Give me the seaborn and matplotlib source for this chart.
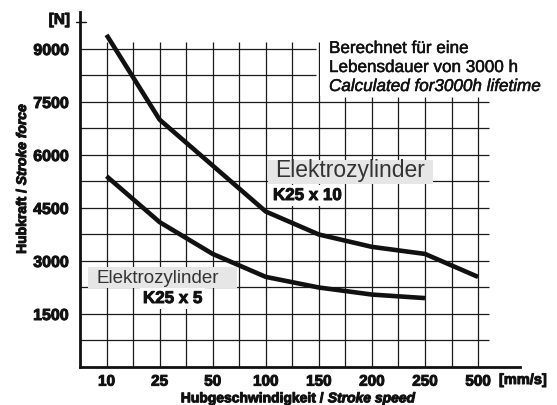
import numpy as np
import pandas as pd
import matplotlib
matplotlib.use("Agg")
import matplotlib.pyplot as plt
import matplotlib.patheffects as pe
from matplotlib.patches import Rectangle
import seaborn as sns

# ---- data ----
speed_labels = ["10", "25", "50", "100", "150", "200", "250", "500"]
force_k25x10 = [9400, 7000, 5700, 4400, 3750, 3400, 3200, 2550]
force_k25x5 = [5400, 4100, 3200, 2550, 2250, 2050, 1950]
y_major = [1500, 3000, 4500, 6000, 7500, 9000]
y_minor = [750, 2250, 3750, 5250, 6750, 8250]

rows = []
for i, v in enumerate(force_k25x10):
    rows.append(("K25 x 10", i, v))
for i, v in enumerate(force_k25x5):
    rows.append(("K25 x 5", i, v))
df = pd.DataFrame(rows, columns=["series", "pos", "force"])

sns.set_style("white")
plt.rcParams["font.family"] = ["Liberation Sans", "DejaVu Sans"]

W, H = 557, 405
fig = plt.figure(figsize=(W / 100, H / 100), dpi=100)
ax = fig.add_axes([80 / W, (H - 367) / H, (520 - 80) / W, (367 - 12) / H])
ax.set_xlim(-0.5, 7.79)
ax.set_ylim(0, 10047)

HEAVY = [pe.withStroke(linewidth=0.7, foreground="#111111")]
SEMI = [pe.withStroke(linewidth=0.35, foreground="#111111")]

def fx(px):
    return px / W

def fy(py):
    return 1 - py / H

# grid (drawn manually, limited extent)
gcol = "#1a1a1a"
cut_y = 7650
cut_x = 3.94
for xv in np.arange(0, 7.01, 0.5):
    top = 9200 if xv <= 4 else cut_y
    ax.plot([xv, xv], [0, top], color=gcol, lw=0.9, zorder=1, solid_capstyle="butt")
for yv in sorted(y_major + y_minor):
    right = 7.2 if yv < cut_y else cut_x
    ax.plot([-0.5, right], [yv, yv], color=gcol, lw=0.9, zorder=1, solid_capstyle="butt")

# curves
sns.lineplot(data=df, x="pos", y="force", hue="series", palette=["#111111", "#111111"],
             estimator=None, sort=False, legend=False, lw=3.3, ax=ax, zorder=3,
             solid_capstyle="butt")

# spines / ticks
for s in ["top", "right"]:
    ax.spines[s].set_visible(False)
for s in ["left", "bottom"]:
    ax.spines[s].set_linewidth(2.0)
    ax.spines[s].set_color("#111111")
ax.set_xticks(range(len(speed_labels)))
ax.set_xticklabels(speed_labels)
ax.set_xticks(np.arange(0.5, 7, 1.0), minor=True)
ax.set_yticks(y_major)
ax.set_yticklabels([str(v) for v in y_major])
ax.set_yticks(y_minor, minor=True)
ax.tick_params(which="both", direction="out", length=5, width=1, color="#111111")
ax.tick_params(axis="x", which="major", pad=0.5, labelsize=11)
ax.tick_params(axis="y", which="major", pad=3, labelsize=11.5)
for lab in ax.get_xticklabels() + ax.get_yticklabels():
    lab.set_fontweight("bold")
    lab.set_color("#111111")
    lab.set_path_effects(HEAVY)
ax.set_xlabel("")
ax.set_ylabel("")

# [N] tick and unit labels
ax.plot([-4 / 440, 6 / 440], [9750, 9750], color="#111111", lw=1,
        transform=ax.get_yaxis_transform(), clip_on=False, zorder=4)
fig.text(fx(70), fy(20), "[N]", ha="right", va="center", fontsize=11, fontweight="bold",
         color="#111111", path_effects=HEAVY)
fig.text(fx(499), fy(380), "[mm/s]", ha="left", va="center", fontsize=10.5,
         fontweight="bold", color="#111111", path_effects=HEAVY)

# white area behind note
ax.add_patch(Rectangle((fx(320), fy(96)), fx(557 - 320), 1 - fy(96) + 0.1,
                       transform=fig.transFigure, fc="white", ec="none", zorder=1.5))

# note text
note_kw = dict(fontsize=12.3, ha="left", va="baseline", color="#111111", path_effects=SEMI)
fig.text(fx(329), fy(53), "Berechnet für eine", **note_kw)
fig.text(fx(329), fy(72), "Lebensdauer von 3000 h", **note_kw)
fig.text(fx(329), fy(91), "Calculated for3000h lifetime", style="italic", **note_kw)

# label boxes
ax.add_patch(Rectangle((fx(268), fy(184)), fx(433 - 268), (184 - 160) / H,
                       transform=fig.transFigure, fc="#e6e6e6", ec="none", zorder=2,
                       clip_on=False))
ax.add_patch(Rectangle((fx(88), fy(288)), fx(237 - 88), (288 - 267) / H,
                       transform=fig.transFigure, fc="#e6e6e6", ec="none", zorder=2,
                       clip_on=False))
ax.text(fx(275), fy(177), "Elektrozylinder", fontsize=16.5, color="#333333",
        transform=fig.transFigure, ha="left", va="baseline", zorder=4)
ax.text(fx(97), fy(283), "Elektrozylinder", fontsize=13.5, color="#333333",
        transform=fig.transFigure, ha="left", va="baseline", zorder=4)
ax.text(fx(273), fy(200), "K25 x 10", fontsize=12.2, fontweight="bold", color="#111111",
        transform=fig.transFigure, ha="left", va="baseline", zorder=4, path_effects=HEAVY,
        bbox=dict(boxstyle="square,pad=0.15", fc="white", ec="none"))
ax.text(fx(143), fy(303), "K25 x 5", fontsize=12.2, fontweight="bold", color="#111111",
        transform=fig.transFigure, ha="left", va="baseline", zorder=4, path_effects=HEAVY,
        bbox=dict(boxstyle="square,pad=0.15", fc="white", ec="none"))

# axis labels with mixed styles
renderer = fig.canvas.get_renderer()

def rich_h(xc, yb, parts, size):
    arts = []
    widths = []
    for txt, st in parts:
        t = fig.text(0, 0, txt, fontsize=size, fontweight="bold", style=st,
                     ha="left", va="baseline", color="#111111", path_effects=HEAVY)
        widths.append(t.get_window_extent(renderer).width)
        arts.append(t)
    total = sum(widths)
    x = xc - total / 2
    for t, w in zip(arts, widths):
        t.set_position((fx(x), fy(yb)))
        x += w

def rich_v(xc, yc, parts, size):
    arts = []
    heights = []
    for txt, st in parts:
        t = fig.text(0, 0, txt, fontsize=size, fontweight="bold", style=st,
                     ha="center", va="bottom", rotation=90, color="#111111",
                     path_effects=HEAVY)
        heights.append(t.get_window_extent(renderer).height)
        arts.append(t)
    total = sum(heights)
    y = yc + total / 2
    for t, h in zip(arts, heights):
        t.set_position((fx(xc), fy(y)))
        y -= h

rich_h(298, 402.3, [("Hubgeschwindigkeit / ", "normal"), ("Stroke speed", "italic")], 10)
rich_v(22, 179, [("Hubkraft / ", "normal"), ("Stroke force", "italic")], 10)

fig.savefig("out.png", dpi=100)
